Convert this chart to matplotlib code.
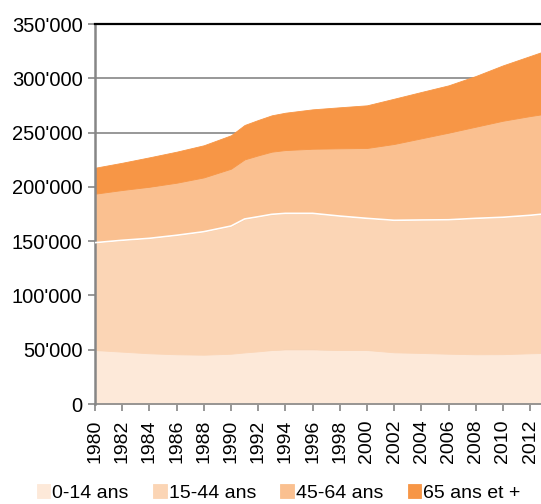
import matplotlib
matplotlib.use("Agg")
import matplotlib.pyplot as plt
from matplotlib.ticker import FuncFormatter

plt.rcParams["font.family"] = ["Liberation Sans", "DejaVu Sans"]

years = [1980, 1982, 1984, 1986, 1988, 1990, 1991, 1992, 1993, 1994,
         1996, 1998, 2000, 2002, 2004, 2006, 2008, 2010, 2012, 2013]
age_0_14 = [49700, 48200, 46700, 45800, 45400, 46300, 47500, 48500, 49700, 50300,
            50300, 49700, 49700, 47600, 47000, 46300, 45800, 45900, 46700, 47000]
age_15_44 = [98900, 102600, 105900, 109600, 113300, 117600, 122900, 124000, 125000, 125300,
             125300, 123400, 121300, 121600, 122500, 123400, 125200, 126100, 127100, 128000]
age_45_64 = [45100, 46300, 47500, 48400, 50000, 52800, 54900, 56500, 57700, 58300,
             59500, 62400, 64800, 70300, 75200, 80200, 84400, 88900, 91400, 92100]
age_65_plus = [23900, 25100, 27100, 28600, 29600, 30800, 31700, 32600, 33500, 34400,
               36300, 37800, 39300, 41700, 42700, 43600, 46700, 51000, 55300, 57700]
labels = ["0-14 ans", "15-44 ans", "45-64 ans", "65 ans et +"]
colors = ["#FDE9D9", "#FBD5B5", "#FAC090", "#F79646"]

fig = plt.figure(figsize=(5.41, 5.04), dpi=100)
ax = fig.add_axes([95 / 541, 1 - 404 / 504, 1 - 95 / 541, 380 / 504])

polys = ax.stackplot(years, age_0_14, age_15_44, age_45_64, age_65_plus,
                     colors=colors, labels=labels, linewidth=0.6, zorder=2)
for p, c in zip(polys, colors):
    p.set_edgecolor(c)
# white edge on top of the 15-44 band
cum = [a + b for a, b in zip(age_0_14, age_15_44)]
ax.plot(years, cum, color="white", lw=1.2, zorder=3)

ax.set_xlim(1980, 2012.8)
ax.set_ylim(0, 350000)
ax.set_yticks(range(0, 350001, 50000))
ax.yaxis.set_major_formatter(FuncFormatter(lambda v, p: f"{int(v):,}".replace(",", "'")))
ax.set_xticks(range(1980, 2013, 2))
ax.tick_params(axis="x", labelrotation=90, labelsize=14, color="#868686", length=5, width=1.2, pad=6)
ax.tick_params(axis="y", labelsize=14.5, color="#868686", length=5, width=1.2, pad=4)

ax.grid(axis="y", color="#868686", lw=1.2, zorder=1)
ax.set_axisbelow(True)
ax.spines["right"].set_visible(False)
ax.spines["top"].set_color("black")
ax.spines["top"].set_linewidth(1.6)
ax.spines["left"].set_color("#868686")
ax.spines["left"].set_linewidth(1.8)
ax.spines["bottom"].set_color("#868686")
ax.spines["bottom"].set_linewidth(1.2)

fig.legend(handles=polys, labels=labels, loc="center", bbox_to_anchor=(0.515, 0.022),
           ncol=4, frameon=False, fontsize=14, handlelength=0.7, handleheight=0.7,
           handletextpad=0.1, columnspacing=1.25, borderaxespad=0)

fig.savefig("out.png", dpi=100)
